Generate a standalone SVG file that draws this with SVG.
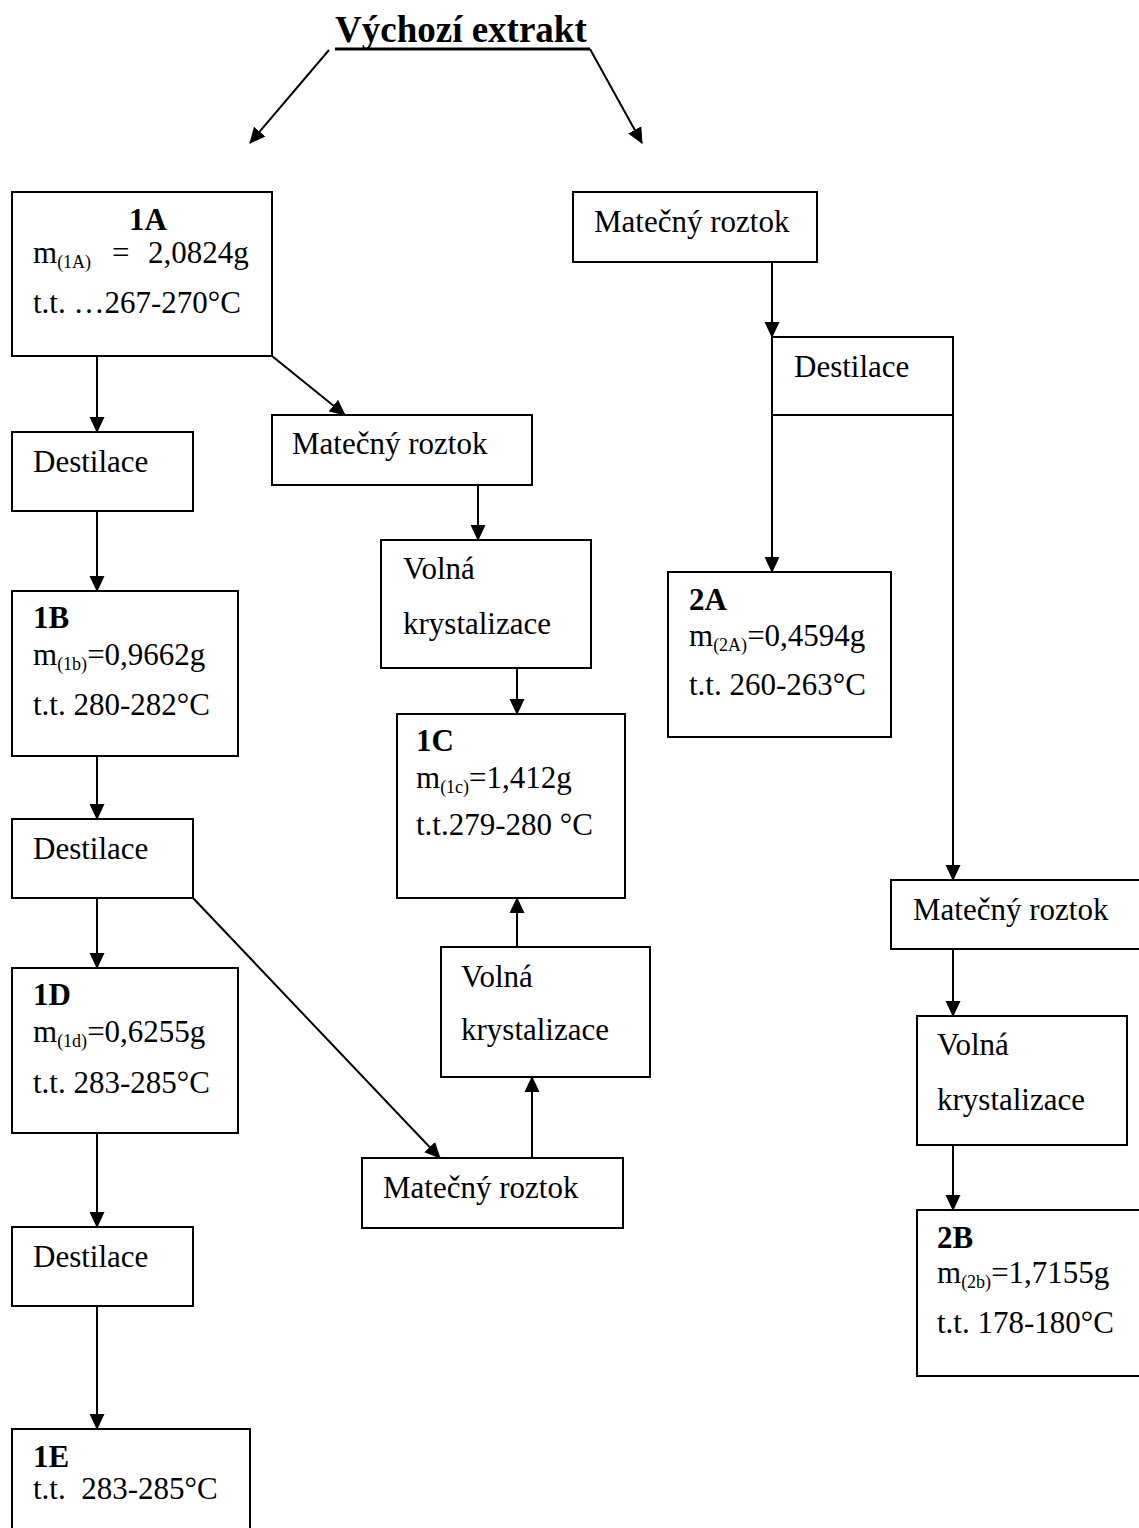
<svg xmlns="http://www.w3.org/2000/svg" width="1139" height="1528" viewBox="0 0 1139 1528">
<style>
.box{fill:#fff;stroke:#000;stroke-width:2}
.t{font-family:"Liberation Serif","Times New Roman",serif;font-size:31px;fill:#000}
.b{font-weight:bold}
.s{font-size:18px}
.c{stroke:#000;stroke-width:2;fill:none;marker-end:url(#ah)}
</style>
<defs>
<marker id="ah" markerWidth="16" markerHeight="16" viewBox="0 0 16 16" refX="15" refY="8" orient="auto" markerUnits="userSpaceOnUse">
<path d="M0,0.5 L16,8 L0,15.5 z" fill="#000"/>
</marker>
</defs>
<rect width="1139" height="1528" fill="#fff"/>

<g id="connectors">
<line class="c" x1="329" y1="50" x2="250" y2="143"/>
<line class="c" x1="590" y1="49" x2="642" y2="143"/>
<line class="c" x1="97" y1="356" x2="97" y2="432"/>
<line class="c" x1="272" y1="356" x2="345" y2="415"/>
<line class="c" x1="478" y1="485" x2="478" y2="540"/>
<line class="c" x1="517" y1="668" x2="517" y2="714"/>
<line class="c" x1="97" y1="511" x2="97" y2="591"/>
<line class="c" x1="97" y1="756" x2="97" y2="819"/>
<line class="c" x1="97" y1="898" x2="97" y2="968"/>
<line class="c" x1="193" y1="898" x2="440" y2="1158"/>
<line class="c" x1="532" y1="1158" x2="532" y2="1077"/>
<line class="c" x1="517" y1="947" x2="517" y2="898"/>
<line class="c" x1="97" y1="1133" x2="97" y2="1227"/>
<line class="c" x1="97" y1="1306" x2="97" y2="1429"/>
<line class="c" x1="772" y1="262" x2="772" y2="337"/>
<line class="c" x1="772" y1="415" x2="772" y2="572"/>
<line class="c" x1="953" y1="415" x2="953" y2="880"/>
<line class="c" x1="953" y1="949" x2="953" y2="1016"/>
<line class="c" x1="953" y1="1145" x2="953" y2="1210"/>
</g>

<g id="title">
<text class="t b" x="335" y="42" style="font-size:37px">Výchozí extrakt</text>
<line x1="335" y1="49" x2="590" y2="49" stroke="#000" stroke-width="3"/>
</g>

<g id="n1A">
<rect class="box" x="12" y="192" width="260" height="164"/>
<text class="t b" x="148" y="230" text-anchor="middle">1A</text>
<text class="t" x="33" y="263">m<tspan class="s" dy="5">(1A)</tspan><tspan dy="-5" x="112">=</tspan><tspan x="148">2,0824g</tspan></text>
<text class="t" x="33" y="313">t.t. …267-270°C</text>
</g>

<g id="dest1">
<rect class="box" x="12" y="432" width="181" height="79"/>
<text class="t" x="33" y="472">Destilace</text>
</g>

<g id="mat1">
<rect class="box" x="272" y="415" width="260" height="70"/>
<text class="t" x="292" y="454">Matečný roztok</text>
</g>

<g id="volna1">
<rect class="box" x="381" y="540" width="210" height="128"/>
<text class="t" x="403" y="579">Volná</text>
<text class="t" x="403" y="634">krystalizace</text>
</g>

<g id="n1C">
<rect class="box" x="397" y="714" width="228" height="184"/>
<text class="t b" x="416" y="751">1C</text>
<text class="t" x="416" y="788">m<tspan class="s" dy="5">(1c)</tspan><tspan dy="-5">=1,412g</tspan></text>
<text class="t" x="416" y="835">t.t.279-280 °C</text>
</g>

<g id="n1B">
<rect class="box" x="12" y="591" width="226" height="165"/>
<text class="t b" x="33" y="628">1B</text>
<text class="t" x="33" y="665">m<tspan class="s" dy="5">(1b)</tspan><tspan dy="-5">=0,9662g</tspan></text>
<text class="t" x="33" y="715">t.t. 280-282°C</text>
</g>

<g id="dest2">
<rect class="box" x="12" y="819" width="181" height="79"/>
<text class="t" x="33" y="859">Destilace</text>
</g>

<g id="n1D">
<rect class="box" x="12" y="968" width="226" height="165"/>
<text class="t b" x="33" y="1005">1D</text>
<text class="t" x="33" y="1042">m<tspan class="s" dy="5">(1d)</tspan><tspan dy="-5">=0,6255g</tspan></text>
<text class="t" x="33" y="1093">t.t. 283-285°C</text>
</g>

<g id="mat3">
<rect class="box" x="362" y="1158" width="261" height="70"/>
<text class="t" x="383" y="1198">Matečný roztok</text>
</g>

<g id="volna2">
<rect class="box" x="441" y="947" width="209" height="130"/>
<text class="t" x="461" y="987">Volná</text>
<text class="t" x="461" y="1040">krystalizace</text>
</g>

<g id="dest3">
<rect class="box" x="12" y="1227" width="181" height="79"/>
<text class="t" x="33" y="1267">Destilace</text>
</g>

<g id="n1E">
<rect class="box" x="12" y="1429" width="238" height="120"/>
<text class="t b" x="33" y="1467">1E</text>
<text class="t" x="33" y="1499" xml:space="preserve">t.t.  283-285°C</text>
</g>

<g id="mat2">
<rect class="box" x="573" y="192" width="244" height="70"/>
<text class="t" x="594" y="232">Matečný roztok</text>
</g>

<g id="dest4">
<rect class="box" x="772" y="337" width="181" height="78"/>
<text class="t" x="794" y="377">Destilace</text>
</g>

<g id="n2A">
<rect class="box" x="668" y="572" width="223" height="165"/>
<text class="t b" x="689" y="610">2A</text>
<text class="t" x="689" y="646">m<tspan class="s" dy="5">(2A)</tspan><tspan dy="-5">=0,4594g</tspan></text>
<text class="t" x="689" y="695">t.t. 260-263°C</text>
</g>

<g id="mat4">
<rect class="box" x="891" y="880" width="260" height="69"/>
<text class="t" x="913" y="920">Matečný roztok</text>
</g>

<g id="volna3">
<rect class="box" x="917" y="1016" width="210" height="129"/>
<text class="t" x="937" y="1055">Volná</text>
<text class="t" x="937" y="1110">krystalizace</text>
</g>

<g id="n2B">
<rect class="box" x="917" y="1210" width="240" height="166"/>
<text class="t b" x="937" y="1248">2B</text>
<text class="t" x="937" y="1283">m<tspan class="s" dy="5">(2b)</tspan><tspan dy="-5">=1,7155g</tspan></text>
<text class="t" x="937" y="1333">t.t. 178-180°C</text>
</g>
</svg>
